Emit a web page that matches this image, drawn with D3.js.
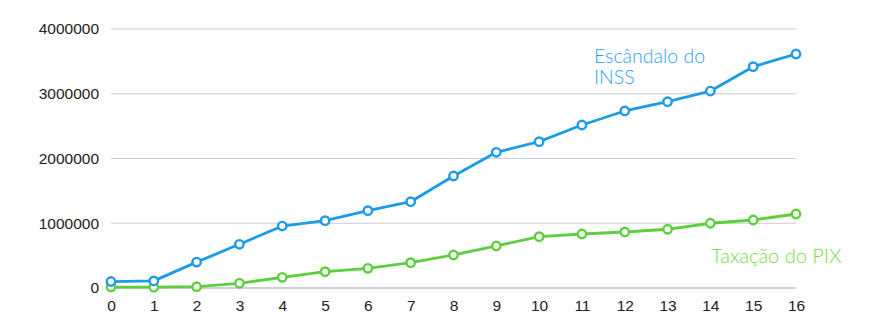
<!DOCTYPE html>
<html><head><meta charset="utf-8">
<script src="https://cdn.jsdelivr.net/npm/d3@7"></script>
<style>body{margin:0;background:#fff}</style>
</head><body>
<svg id="c" width="883" height="335"></svg>
<script>
const categories = [0,1,2,3,4,5,6,7,8,9,10,11,12,13,14,15,16];
const inss = [100000,110000,400000,675000,957000,1040000,1194000,1333000,1730000,2096000,2260000,2517000,2734000,2877000,3042000,3418000,3614000];
const pix = [15000,12000,20000,73000,165000,252000,304000,391000,510000,649000,793000,834000,865000,907000,1000000,1050000,1143000];
const yTicks = [0,1000000,2000000,3000000,4000000];
const seriesNames = ["Escândalo do INSS","Taxação do PIX"];
const inssLabelLines = ["Escândalo do","INSS"];

const svg = d3.select("#c");
const x = d3.scaleLinear().domain([0,16]).range([111,796]);
const y = d3.scaleLinear().domain([0,4000000]).range([288,29]);

const grid = svg.append("g");
grid.selectAll("line").data(yTicks).join("line")
  .attr("x1",111).attr("x2",796)
  .attr("y1",d=>y(d)).attr("y2",d=>y(d))
  .attr("stroke",d=>d===0?"#a0a0a0":"#cccccc").attr("stroke-width",1.2);

const yAxis = d3.axisLeft(y).tickValues(yTicks).tickSize(0).tickPadding(12).tickFormat(d=>String(d));
const ya = svg.append("g").attr("transform","translate(111,0)").call(yAxis);
ya.select(".domain").remove();
ya.selectAll("text").attr("font-family","Liberation Sans, Arial, sans-serif").attr("font-size",15.5).attr("fill","#222");

const xAxis = d3.axisBottom(x).tickValues(categories).tickSize(0).tickPadding(8).tickFormat(d=>String(d));
const xa = svg.append("g").attr("transform","translate(0,292)").call(xAxis);
xa.select(".domain").remove();
xa.selectAll("text").attr("font-family","Liberation Sans, Arial, sans-serif").attr("font-size",15.5).attr("fill","#222");

const line = d3.line().x((d,i)=>x(categories[i])).y(d=>y(d));
function drawSeries(data,color){
  svg.append("path").datum(data).attr("d",line).attr("fill","none")
    .attr("stroke",color).attr("stroke-width",2.8).attr("stroke-linejoin","round");
  svg.append("g").selectAll("circle").data(data).join("circle")
    .attr("cx",(d,i)=>x(categories[i])).attr("cy",d=>y(d)).attr("r",4.2)
    .attr("fill","#fff").attr("stroke",color).attr("stroke-width",2.4);
}
drawSeries(pix,"#5ccf3e");
drawSeries(inss,"#1c9be6");

svg.append("g").selectAll("text").data(inssLabelLines).join("text")
  .attr("x",594).attr("y",(d,i)=>63+i*21)
  .attr("font-family","Lato, sans-serif").attr("font-weight",300).attr("font-size",19.5).attr("fill","#2aa3ee")
  .text(d=>d);
svg.append("text").attr("x",711).attr("y",263)
  .attr("font-family","Lato, sans-serif").attr("font-weight",300).attr("font-size",20).attr("fill","#72dc48")
  .text(seriesNames[1]);
</script>
</body></html>
